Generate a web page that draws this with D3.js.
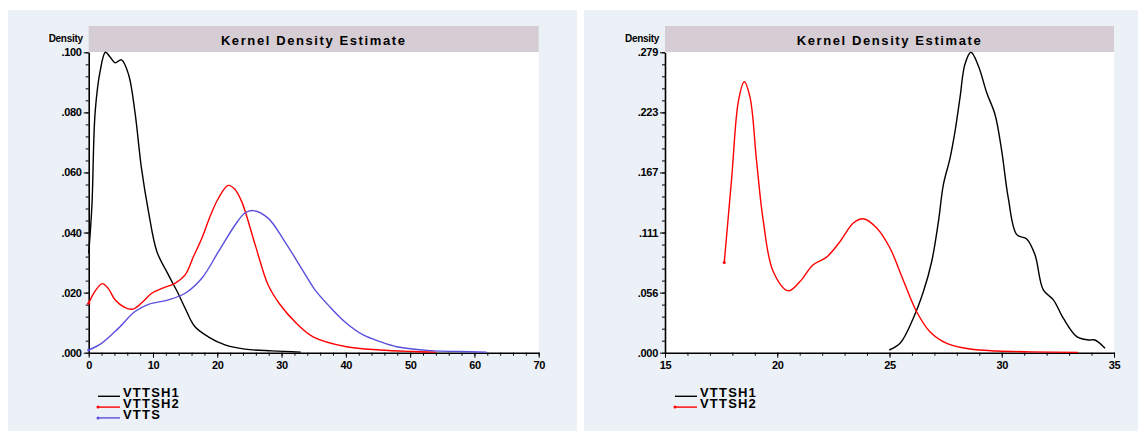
<!DOCTYPE html>
<html lang="en">
<head>
<meta charset="UTF-8">
<title>Kernel Density Estimate</title>
<script src="https://d3js.org/d3.v7.min.js"></script>
<style>
  body { margin: 0; background: #fff; }
  text { font-family: "Liberation Sans", Arial, sans-serif; }
</style>
</head>
<body>
<svg width="1138" height="432"></svg>
<script>
    // ---- data ----
    // left panel
    const leftH1 = [[0,0.033],[0.5,0.049],[1.0,0.080],[1.8,0.094],[2.6,0.100],[3.3,0.0985],[4.1,0.0965],
        [5.1,0.0975],[6.2,0.0926],[7.2,0.080],[8.2,0.0615],[9.3,0.047],[10.6,0.0337],[12.4,0.0259],
        [13.9,0.0198],[15.0,0.0148],[16.5,0.0087],[18.6,0.0053],[21.2,0.0026],[24.3,0.0012],
        [28.5,0.0006],[33.0,0.0002]];
    const leftH2 = [[0,0.0165],[1.0,0.0205],[2.1,0.023],[3.0,0.0215],[4.1,0.0176],[5.5,0.0152],
        [6.9,0.0145],[8.3,0.0167],[9.8,0.0198],[11.5,0.0215],[13.4,0.0231],[15.0,0.0259],[16.3,0.032],
        [17.6,0.0381],[19.0,0.046],[20.2,0.0515],[21.7,0.0557],[22.7,0.0545],[23.8,0.0503],
        [25.9,0.0359],[27.9,0.0226],[29.7,0.0162],[32.3,0.0098],[34.9,0.0053],[40.1,0.0020],
        [45.3,0.0009],[50.5,0.0004],[54.0,0.0002]];
    const leftVTTS = [[0,0.0009],[2.0,0.0031],[4.6,0.0081],[7.2,0.0137],[9.3,0.0161],[12.4,0.0176],
        [15.0,0.0198],[17.6,0.0248],[20.2,0.0337],[22.8,0.0426],[24.3,0.0465],[25.6,0.0473],
        [27.9,0.0448],[30.5,0.037],[33.1,0.0281],[35.2,0.0209],[37.5,0.0153],[40.1,0.0098],
        [42.7,0.0059],[45.3,0.0037],[47.9,0.0020],[53.1,0.0007],[57.5,0.0004],[61.9,0.0002]];
    const leftXTicks = [0, 10, 20, 30, 40, 50, 60, 70];
    const leftYTicks = [0, 0.02, 0.04, 0.06, 0.08, 0.1];

    // right panel
    const rightH1 = [[24.99,0.0025],[25.47,0.0087],[26.06,0.032],[26.51,0.0567],[26.88,0.0846],
        [27.18,0.1218],[27.4,0.156],[27.7,0.1808],[27.92,0.2055],[28.14,0.2366],[28.36,0.2676],
        [28.63,0.2787],[28.96,0.266],[29.33,0.2412],[29.7,0.221],[30.0,0.187],[30.29,0.1436],
        [30.67,0.1095],[31.11,0.1055],[31.48,0.0909],[31.85,0.0583],[32.3,0.049],[32.74,0.032],
        [33.34,0.0149],[33.86,0.0118],[34.15,0.0118],[34.6,0.0041]];
    const rightH2 = [[17.64,0.0837],[17.97,0.162],[18.27,0.2334],[18.53,0.2514],[18.79,0.2366],
        [19.08,0.1776],[19.38,0.1218],[19.82,0.0753],[20.49,0.0574],[21.01,0.066],[21.6,0.0816],
        [22.2,0.0887],[22.8,0.1032],[23.39,0.1203],[23.83,0.1243],[24.43,0.1157],[25.02,0.0971],
        [25.6,0.068],[26.21,0.038],[26.8,0.0195],[27.55,0.0087],[28.59,0.0034],[29.77,0.0016],
        [31.3,0.0008],[33.4,0.0003]];
    const rightXTicks = [15, 20, 25, 30, 35];
    const rightYTicks = [0, 0.05574, 0.11148, 0.16722, 0.22296, 0.2787];

    const svg = d3.select('svg');
    const fmtY = v => d3.format('.3f')(v).replace(/^0/, '');

    function drawPanel(p) {
        // panel background
        svg.append('rect')
            .attr('x', p.bx).attr('y', 10).attr('width', p.bw).attr('height', 421)
            .attr('fill', '#ecf0f7');

        const x = d3.scaleLinear().domain(p.xDomain).range([p.left, p.right]);
        const y = d3.scaleLinear().domain(p.yDomain).range([352.7, 52.3]);

        // plot area + title bar
        svg.append('rect')
            .attr('x', p.left).attr('y', 52).attr('width', p.right - p.left).attr('height', 300.7)
            .attr('fill', '#fff');
        svg.append('rect')
            .attr('x', p.left).attr('y', 26).attr('width', p.right - p.left).attr('height', 26)
            .attr('fill', '#d5ccd4');
        svg.append('text')
            .attr('x', (p.left + p.right) / 2).attr('y', 44.5)
            .attr('text-anchor', 'middle')
            .style('font-size', '13px').style('font-weight', 'bold')
            .style('letter-spacing', '1.6px')
            .text('Kernel Density Estimate');
        svg.append('text')
            .attr('x', p.left - 6).attr('y', 41.5)
            .attr('text-anchor', 'end')
            .style('font-size', '10px').style('font-weight', 'bold')
            .style('letter-spacing', '-0.3px')
            .text('Density');

        // minor ticks
        const yMinor = d3.range(0, 26).map(i => p.yDomain[1] * i / 25);
        svg.append('g').attr('transform', `translate(${p.left},0)`)
            .call(d3.axisLeft(y).tickValues(yMinor).tickSize(3).tickSizeOuter(0).tickFormat(''))
            .call(g => g.select('.domain').remove());
        svg.append('g').attr('transform', 'translate(0,352.7)')
            .call(d3.axisBottom(x).tickValues(p.xMinor).tickSize(3).tickSizeOuter(0).tickFormat(''))
            .call(g => g.select('.domain').remove());

        // major ticks
        const ya = svg.append('g').attr('transform', `translate(${p.left},0)`)
            .call(d3.axisLeft(y).tickValues(p.yTicks).tickSize(5).tickSizeOuter(0).tickPadding(2).tickFormat(fmtY));
        ya.selectAll('text').style('font-size', '11px').style('font-weight', 'bold')
            .style('letter-spacing', '-0.3px').attr('fill', '#000');
        const xa = svg.append('g').attr('transform', 'translate(0,352.7)')
            .call(d3.axisBottom(x).tickValues(p.xTicks).tickSize(5).tickSizeOuter(0).tickPadding(4));
        xa.selectAll('text').style('font-size', '11px').style('font-weight', 'bold')
            .style('letter-spacing', '-0.4px').attr('fill', '#000');
        svg.selectAll('.domain').attr('stroke-width', 1.6);
        svg.selectAll('.tick line').attr('stroke-width', 1);

        // curves
        const line = d3.line().x(d => x(d[0])).y(d => y(d[1])).curve(d3.curveCatmullRom.alpha(0.5));
        p.series.forEach(s => {
            svg.append('path').datum(s.data)
                .attr('d', line)
                .attr('fill', 'none').attr('stroke', s.color).attr('stroke-width', 1.4);
            if (s.dot) {
                svg.append('circle')
                    .attr('cx', x(s.data[0][0])).attr('cy', y(s.data[0][1])).attr('r', 1.5)
                    .attr('fill', s.color);
            }
        });

        // legend
        p.series.forEach((s, i) => {
            const ly = 396.3 + i * 10.8;
            svg.append('line')
                .attr('x1', p.legendX).attr('x2', p.legendX + 22)
                .attr('y1', ly).attr('y2', ly)
                .attr('stroke', s.color).attr('stroke-width', 1.4);
            if (s.dot) {
                svg.append('circle').attr('cx', p.legendX).attr('cy', ly).attr('r', 1.5).attr('fill', s.color);
            }
            svg.append('text')
                .attr('x', p.legendX + 25).attr('y', ly + 1)
                .style('font-size', '13px').style('font-weight', 'bold')
                .style('letter-spacing', '1.2px')
                .text(s.name);
        });
    }

    drawPanel({
        bx: 8, bw: 569, left: 88.7, right: 538.7,
        xDomain: [0, 70], yDomain: [0, 0.1],
        xTicks: leftXTicks, yTicks: leftYTicks,
        xMinor: d3.range(0, 71, 2),
        legendX: 98,
        series: [
            {name: 'VTTSH1', color: '#000', data: leftH1, dot: false},
            {name: 'VTTSH2', color: '#ff0000', data: leftH2, dot: true},
            {name: 'VTTS', color: '#5a4fdc', data: leftVTTS, dot: true}
        ]
    });

    drawPanel({
        bx: 584, bw: 554, left: 665, right: 1114,
        xDomain: [15, 35], yDomain: [0, 0.2787],
        xTicks: rightXTicks, yTicks: rightYTicks,
        xMinor: d3.range(15, 36, 1),
        legendX: 675,
        series: [
            {name: 'VTTSH1', color: '#000', data: rightH1, dot: false},
            {name: 'VTTSH2', color: '#ff0000', data: rightH2, dot: true}
        ]
    });
</script>
</body>
</html>
